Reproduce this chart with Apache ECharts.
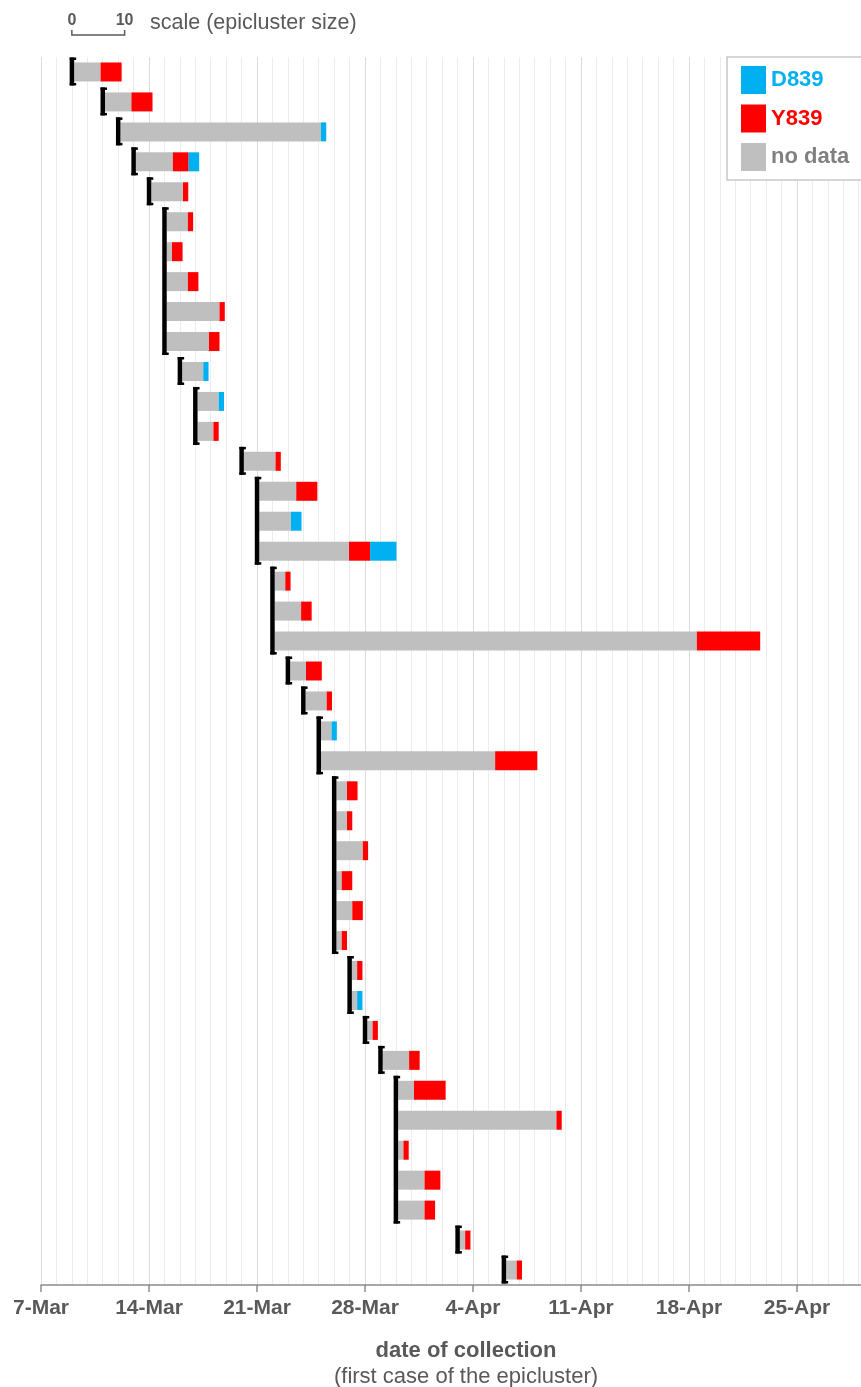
<!DOCTYPE html>
<html>
<head>
<meta charset="utf-8">
<script src="https://cdn.jsdelivr.net/npm/echarts@6/dist/echarts.min.js"></script>
<style>
html,body{margin:0;padding:0;background:#fff;}
#chart{width:861px;height:1387px;}
</style>
</head>
<body>
<div id="chart"></div>
<script>
// date of the first case of each epicluster, top to bottom
var startDates = [
  '2020-03-09','2020-03-11','2020-03-12','2020-03-13','2020-03-14',
  '2020-03-15','2020-03-15','2020-03-15','2020-03-15','2020-03-15',
  '2020-03-16','2020-03-17','2020-03-17','2020-03-20',
  '2020-03-21','2020-03-21','2020-03-21',
  '2020-03-22','2020-03-22','2020-03-22',
  '2020-03-23','2020-03-24','2020-03-25','2020-03-25',
  '2020-03-26','2020-03-26','2020-03-26','2020-03-26','2020-03-26','2020-03-26',
  '2020-03-27','2020-03-27','2020-03-28','2020-03-29',
  '2020-03-30','2020-03-30','2020-03-30','2020-03-30','2020-03-30',
  '2020-04-03','2020-04-06'
];
// cases per epicluster
var noData = [5,5,38,7,6,4,1,4,10,8,4,4,3,6,7,6,17,2,5,80,3,4,2,33,2,2,5,1,3,1,1,1,1,5,3,30,1,5,5,1,2];
var y839   = [4,4,0,3,1,1,2,2,1,2,0,0,1,1,4,0,4,1,2,12,3,1,0,8,2,1,1,2,2,1,1,0,1,2,6,1,1,3,2,1,1];
var d839   = [0,0,1,2,0,0,0,0,0,0,1,1,0,0,0,2,5,0,0,0,0,0,1,0,0,0,0,0,0,0,0,1,0,0,0,0,0,0,0,0,0];
var tickLabels = ['7-Mar','14-Mar','21-Mar','28-Mar','4-Apr','11-Apr','18-Apr','25-Apr'];

var origin = Date.UTC(2020, 2, 7);
var caseUnit = 0.342;   // axis days per case (size scale)
var barPad = 0.15;      // gap between bracket and bar
var font = "'Liberation Sans', Arial, sans-serif";
var txt = '#595959';

function dayNum(s){
  var p = s.split('-');
  return Math.round((Date.UTC(+p[0], +p[1]-1, +p[2]) - origin) / 86400000);
}

var rows = startDates.map(function(d, i){ return 'c' + (i+1); });
var baseVals = startDates.map(function(d){ return dayNum(d) + barPad; });

// clusters that start the same day share one bracket
var groups = [];
startDates.forEach(function(d, i){
  var last = groups[groups.length-1];
  var n = dayNum(d);
  if (last && last[0] === n) last[2] = i;
  else groups.push([n, i, i]);
});

function renderBracket(params, api){
  var band = api.size([0, 1])[1];
  var p0 = api.coord([api.value(0), api.value(1)]);
  var p1 = api.coord([api.value(0), api.value(2)]);
  var x = p0[0];
  var y0 = p0[1] - band/2 + 0.5;
  var y1 = p1[1] + band/2 - 1.5;
  return {
    type:'group',
    children:[
      {type:'rect', shape:{x:x-2.2, y:y0, width:4.5, height:y1-y0}, style:{fill:'#000'}},
      {type:'rect', shape:{x:x-2.2, y:y0, width:6.5, height:2.5}, style:{fill:'#000'}},
      {type:'rect', shape:{x:x-2.2, y:y1-2.5, width:6.5, height:2.5}, style:{fill:'#000'}}
    ]
  };
}

function sizes(arr){ return arr.map(function(v){ return v * caseUnit; }); }

var chart = echarts.init(document.getElementById('chart'));
chart.setOption({
  animation:false,
  grid:{left:41, right:0, top:57, bottom:102},
  legend:{
    orient:'vertical',
    left:727, top:57,
    selectedMode:false,
    icon:'rect',
    itemWidth:25, itemHeight:28, itemGap:10.5,
    padding:[9,20,9,14],
    backgroundColor:'#fff',
    borderColor:'#c8c8c8', borderWidth:1.5,
    textStyle:{fontSize:22, fontWeight:'bold', fontFamily:font},
    data:[
      {name:'D839', textStyle:{color:'#00B0F0'}},
      {name:'Y839', textStyle:{color:'#FF0000'}},
      {name:'no data', textStyle:{color:'#808080'}}
    ]
  },
  xAxis:{
    type:'value', min:0, max:53.15, interval:7,
    axisLine:{show:true, lineStyle:{color:'#8c8c8c', width:1.5}},
    axisTick:{show:true, length:7, lineStyle:{color:'#8c8c8c', width:1.5}},
    axisLabel:{
      margin:13, fontSize:21, fontWeight:'bold', color:txt, fontFamily:font,
      showMaxLabel:false,
      formatter:function(v){ return tickLabels[Math.round(v/7)] || ''; }
    },
    splitLine:{show:true, lineStyle:{color:'#dcdcdc', width:1}},
    minorTick:{show:false, splitNumber:7},
    minorSplitLine:{show:true, lineStyle:{color:'#ececec', width:1}}
  },
  yAxis:{type:'category', inverse:true, data:rows, show:false},
  series:[
    {name:'base', type:'bar', stack:'s', barWidth:19, data:baseVals,
     itemStyle:{color:'rgba(0,0,0,0)'}, silent:true},
    {name:'no data', type:'bar', stack:'s', barWidth:19, data:sizes(noData), itemStyle:{color:'#BFBFBF'}},
    {name:'Y839', type:'bar', stack:'s', barWidth:19, data:sizes(y839), itemStyle:{color:'#FF0000'}},
    {name:'D839', type:'bar', stack:'s', barWidth:19, data:sizes(d839), itemStyle:{color:'#00B0F0'}},
    {name:'bracket', type:'custom', renderItem:renderBracket, data:groups,
     encode:{x:0, y:1}, z:5, silent:true}
  ]
});

// size scale drawn with the axis scale
var sx0 = chart.convertToPixel({xAxisIndex:0}, 2);
var sx1 = chart.convertToPixel({xAxisIndex:0}, 2 + 10*caseUnit);
chart.setOption({
  graphic:[
    {type:'text', x:sx0, y:21, style:{text:'0', fill:txt, font:'bold 16px ' + font, align:'center', verticalAlign:'middle'}},
    {type:'text', x:sx1, y:21, style:{text:'10', fill:txt, font:'bold 16px ' + font, align:'center', verticalAlign:'middle'}},
    {type:'polyline', shape:{points:[[sx0,30],[sx0,35],[sx1,35],[sx1,30]]}, style:{stroke:txt, lineWidth:1.5, fill:null}},
    {type:'text', x:150, y:23, style:{text:'scale (epicluster size)', fill:txt, font:'21.5px ' + font, verticalAlign:'middle'}},
    {type:'text', x:466, y:1351, style:{text:'date of collection', fill:txt, font:'bold 22px ' + font, align:'center', verticalAlign:'middle'}},
    {type:'text', x:466, y:1377, style:{text:'(first case of the epicluster)', fill:txt, font:'22px ' + font, align:'center', verticalAlign:'middle'}}
  ]
});
</script>
</body>
</html>
